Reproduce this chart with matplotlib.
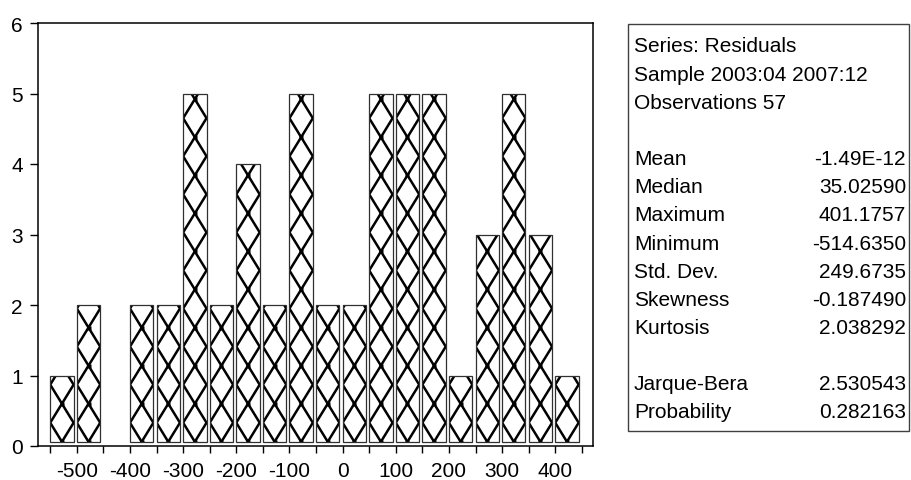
import numpy as np
import matplotlib.pyplot as plt
from matplotlib.patches import Rectangle

plt.rcParams.update(
    {
        "font.family": ["Liberation Sans", "DejaVu Sans"],
        "font.size": 15,
    }
)

# residual histogram, bins of width 50 starting at -550
bin_starts = [-550, -500, -450, -400, -350, -300, -250, -200, -150, -100,
              -50, 0, 50, 100, 150, 200, 250, 300, 350, 400]
counts = [1, 2, 0, 2, 2, 5, 2, 4, 2, 5, 2, 2, 5, 5, 5, 1, 3, 5, 3, 1]

xtick_pos = list(range(-550, 451, 50))
xtick_labels = ["" if v % 100 else str(v) for v in xtick_pos]

header_lines = ["Series: Residuals", "Sample 2003:04 2007:12", "Observations 57"]
stat_names = ["Mean", "Median", "Maximum", "Minimum", "Std. Dev.", "Skewness",
              "Kurtosis", None, "Jarque-Bera", "Probability"]
stat_values = ["-1.49E-12", "35.02590", "401.1757", "-514.6350", "249.6735",
               "-0.187490", "2.038292", None, "2.530543", "0.282163"]

W, H = 911, 481
fig = plt.figure(figsize=(W / 100, H / 100), dpi=100)
ax = fig.add_axes([38 / W, 1 - 447 / H, (593 - 38) / W, (447 - 24) / H])

base = 0.06
bar_w = 44
nz_starts = [b for b, c in zip(bin_starts, counts) if c > 0]
nz_counts = [c for c in counts if c > 0]
bars = ax.bar(nz_starts, [c - base for c in nz_counts], width=bar_w,
              bottom=base, align="edge", color="white", edgecolor="#303030",
              linewidth=0.9, zorder=4)

# diamond chain fill inside each bar
period = 1.08
for rect in bars:
    x0, w = rect.get_x(), rect.get_width()
    yb, h = rect.get_y(), rect.get_height()
    n = int(np.ceil(h / (period / 2))) + 4
    ys = yb - 3 * period / 4 + np.arange(n) * period / 2
    side = np.arange(n) % 2
    for xs in (np.where(side == 0, x0, x0 + w), np.where(side == 0, x0 + w, x0)):
        ln, = ax.plot(xs, ys, color="black", lw=1.8, solid_capstyle="butt",
                      solid_joinstyle="miter", zorder=3)
        ln.set_clip_path(rect)
    yc = yb + np.arange(n) * period / 2
    dots, = ax.plot(np.full(n, x0 + w / 2), yc, ls="none", marker="s", ms=3.5,
                    color="black", mec="none", zorder=3)
    dots.set_clip_path(rect)
    ax.bar(x0, h, width=w, bottom=yb, align="edge", color="white",
           edgecolor="none", zorder=1)
    rect.set_facecolor("none")

ax.set_xlim(-573, 471)
ax.set_ylim(0, 6)
ax.set_xticks(xtick_pos)
ax.set_xticklabels(xtick_labels)
ax.set_yticks(range(0, 7))
ax.tick_params(axis="x", direction="out", length=5, width=1, pad=6)
ax.tick_params(axis="y", direction="out", length=6, width=1, pad=5)
for s in ax.spines.values():
    s.set_linewidth(1.1)
    s.set_color("black")

# statistics box
fig.patches.append(Rectangle((628 / W, 1 - 432 / H), (909 - 628) / W, (432 - 25) / H,
                             transform=fig.transFigure, fill=False,
                             edgecolor="#404040", linewidth=1))
y0, step = 47, 28.15
for i, line in enumerate(header_lines):
    fig.text(634 / W, 1 - (y0 + i * step) / H, line, va="center", ha="left")
for i, (name, val) in enumerate(zip(stat_names, stat_values)):
    if name is None:
        continue
    y = 1 - (y0 + (i + 4) * step) / H
    fig.text(634 / W, y, name, va="center", ha="left")
    fig.text(906 / W, y, val, va="center", ha="right")

fig.savefig("out.png", dpi=100)
